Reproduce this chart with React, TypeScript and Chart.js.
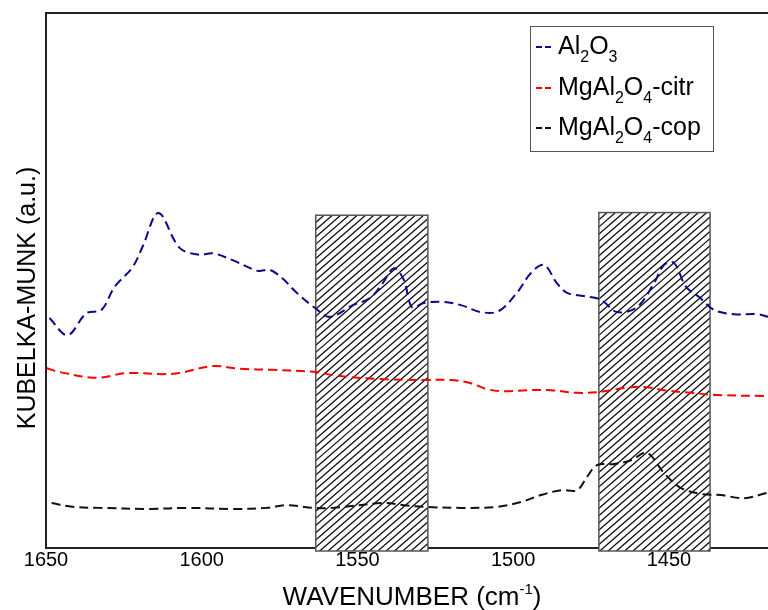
import React, { useEffect, useRef } from "react";
import { Chart, registerables } from "chart.js";

Chart.register(...registerables);

const FONT = "'Liberation Sans', Arial, sans-serif";

const xTicks = [1650, 1600, 1550, 1500, 1450];
const xMin = 1418.2;
const xMax = 1650;

const al2o3X = [1648.9, 1643.1, 1637.0, 1632.2, 1628.0, 1622.2, 1619.0, 1613.9, 1607.1, 1600.7, 1596.5, 1590.1, 1582.0, 1578.2, 1574.3, 1569.5, 1563.7, 1558.9, 1551.5, 1546.0, 1541.9, 1538.3, 1535.1, 1532.5, 1528.7, 1522.3, 1516.8, 1510.4, 1504.6, 1498.8, 1494.3, 1490.1, 1486.0, 1482.7, 1477.3, 1471.8, 1466.7, 1460.3, 1454.8, 1451.6, 1448.4, 1444.5, 1440.3, 1435.5, 1429.1, 1421.7, 1418.2];
const al2o3Y = [43.0, 39.8, 43.9, 44.5, 48.8, 52.5, 56.3, 62.6, 56.1, 54.8, 55.1, 53.8, 51.8, 52.0, 50.5, 47.7, 44.9, 43.2, 45.4, 46.7, 49.5, 52.3, 50.1, 45.0, 45.8, 46.0, 45.4, 44.1, 44.3, 47.7, 51.4, 52.9, 49.5, 47.7, 47.1, 46.4, 44.1, 45.0, 49.5, 52.9, 53.3, 48.8, 46.9, 44.5, 43.7, 43.7, 43.2];

const citrX = [1649.8, 1645.7, 1633.8, 1624.1, 1612.6, 1607.1, 1596.5, 1587.8, 1577.2, 1563.1, 1557.9, 1543.8, 1528.7, 1520.0, 1513.6, 1508.5, 1503.0, 1495.6, 1487.9, 1479.5, 1471.8, 1464.4, 1458.0, 1451.6, 1442.9, 1434.5, 1418.5];
const citrY = [33.6, 32.9, 31.8, 32.7, 32.5, 32.7, 34.0, 33.5, 33.3, 32.9, 32.3, 31.6, 31.4, 31.4, 30.8, 29.7, 29.3, 29.5, 29.5, 29.0, 29.2, 29.9, 30.1, 29.5, 29.0, 28.6, 28.4];

const copX = [1648.2, 1641.5, 1632.8, 1616.7, 1604.9, 1590.1, 1579.1, 1572.7, 1564.4, 1557.9, 1541.9, 1535.1, 1528.7, 1516.8, 1505.2, 1497.5, 1491.1, 1484.7, 1479.5, 1476.3, 1473.1, 1467.6, 1462.2, 1457.0, 1451.6, 1446.1, 1439.7, 1433.3, 1425.9, 1418.5];
const copY = [8.4, 7.7, 7.5, 7.3, 7.5, 7.3, 7.5, 8.0, 7.5, 7.5, 8.4, 8.0, 7.7, 7.5, 7.7, 8.6, 9.9, 10.8, 10.8, 13.3, 15.5, 15.7, 16.4, 17.8, 14.0, 11.2, 10.1, 9.9, 9.3, 10.3];

const bandStart = [1563.4, 1472.5];
const bandEnd = [1527.4, 1436.8];
const bandTop = [62.2, 62.7];

const seriesLabels = ["Al_2O_3", "MgAl_2O_4-citr", "MgAl_2O_4-cop"];
const seriesColors = ["#0a0a8a", "#ff0000", "#111111"];

const yTitle = "KUBELKA-MUNK (a.u.)";
const xTitleMain = "WAVENUMBER (cm";
const xTitleSup = "-1";
const xTitleEnd = ")";

function toPts(xs: number[], ys: number[]) {
  return xs.map((x, i) => ({ x, y: ys[i] }));
}

// draw text with "_n" subscripts
function drawSubText(ctx: CanvasRenderingContext2D, text: string, x: number, y: number, size: number) {
  let cx = x;
  let i = 0;
  while (i < text.length) {
    if (text[i] === "_" && i + 1 < text.length) {
      ctx.font = `${Math.round(size * 0.64)}px ${FONT}`;
      ctx.fillText(text[i + 1], cx, y + size * 0.33);
      cx += ctx.measureText(text[i + 1]).width;
      i += 2;
    } else {
      let j = i;
      while (j < text.length && text[j] !== "_") j++;
      const part = text.slice(i, j);
      ctx.font = `${size}px ${FONT}`;
      ctx.fillText(part, cx, y);
      cx += ctx.measureText(part).width;
      i = j;
    }
  }
}

const decorPlugin = {
  id: "decor",
  beforeDraw(chart: any) {
    const ctx = chart.ctx;
    ctx.save();
    ctx.fillStyle = "#ffffff";
    ctx.fillRect(0, 0, chart.width, chart.height);
    ctx.restore();
  },
  beforeDatasetsDraw(chart: any) {
    const ctx: CanvasRenderingContext2D = chart.ctx;
    const xs = chart.scales.x;
    const ys = chart.scales.y;
    const bottom = chart.chartArea.bottom + 3;
    ctx.save();
    for (let b = 0; b < bandStart.length; b++) {
      const x0 = xs.getPixelForValue(bandStart[b]);
      const x1 = xs.getPixelForValue(bandEnd[b]);
      const top = ys.getPixelForValue(bandTop[b]);
      const w = x1 - x0;
      const h = bottom - top;
      const run = h * 1.15;
      ctx.save();
      ctx.fillStyle = "#ffffff";
      ctx.fillRect(x0, top, w, h);
      ctx.beginPath();
      ctx.rect(x0, top, w, h);
      ctx.clip();
      ctx.strokeStyle = "#111111";
      ctx.lineWidth = 1.3;
      ctx.beginPath();
      for (let t = -run; t < w + run; t += 8.3) {
        ctx.moveTo(x0 + t, bottom);
        ctx.lineTo(x0 + t + run, top);
      }
      ctx.stroke();
      ctx.restore();
      ctx.strokeStyle = "#555555";
      ctx.lineWidth = 1.5;
      ctx.strokeRect(x0, top, w, h);
    }
    ctx.restore();
  },
  afterDraw(chart: any) {
    const ctx: CanvasRenderingContext2D = chart.ctx;
    const area = chart.chartArea;
    ctx.save();
    // top frame line
    ctx.strokeStyle = "#222222";
    ctx.lineWidth = 2;
    ctx.beginPath();
    ctx.moveTo(area.left - 1, area.top);
    ctx.lineTo(chart.width, area.top);
    ctx.stroke();

    // legend
    const lx = 530, ly = 26, lw = 183, lh = 125;
    ctx.fillStyle = "#ffffff";
    ctx.fillRect(lx, ly, lw, lh);
    ctx.strokeStyle = "#555555";
    ctx.lineWidth = 1;
    ctx.strokeRect(lx + 0.5, ly + 0.5, lw, lh);
    const baselines = [54, 95, 135];
    chart.data.datasets.forEach((ds: any, i: number) => {
      ctx.save();
      ctx.strokeStyle = ds.borderColor;
      ctx.lineWidth = 2.2;
      ctx.setLineDash([6, 3]);
      ctx.beginPath();
      ctx.moveTo(536, baselines[i] - 7);
      ctx.lineTo(552, baselines[i] - 7);
      ctx.stroke();
      ctx.restore();
      ctx.fillStyle = "#000000";
      ctx.textBaseline = "alphabetic";
      ctx.textAlign = "left";
      drawSubText(ctx, ds.label, 558, baselines[i], 25);
    });

    // x title with superscript
    ctx.fillStyle = "#000000";
    ctx.textBaseline = "alphabetic";
    ctx.textAlign = "left";
    ctx.font = `26px ${FONT}`;
    const w1 = ctx.measureText(xTitleMain).width;
    const w3 = ctx.measureText(xTitleEnd).width;
    ctx.font = `15px ${FONT}`;
    const w2 = ctx.measureText(xTitleSup).width;
    const total = w1 + w2 + w3;
    let sx = 412 - total / 2;
    const base = 605;
    ctx.font = `26px ${FONT}`;
    ctx.fillText(xTitleMain, sx, base);
    sx += w1;
    ctx.font = `15px ${FONT}`;
    ctx.fillText(xTitleSup, sx, base - 11);
    sx += w2;
    ctx.font = `26px ${FONT}`;
    ctx.fillText(xTitleEnd, sx, base);

    // y title
    ctx.translate(35, 298);
    ctx.rotate(-Math.PI / 2);
    ctx.textAlign = "center";
    ctx.font = `25px ${FONT}`;
    ctx.fillText(yTitle, 0, 0);
    ctx.restore();
  },
};

export default function App() {
  const ref = useRef<HTMLCanvasElement | null>(null);
  useEffect(() => {
    document.body.style.margin = "0";
    if (!ref.current) return;
    const mk = (i: number, xs: number[], ys: number[]) => ({
      label: seriesLabels[i],
      data: toPts(xs, ys),
      borderColor: seriesColors[i],
      backgroundColor: seriesColors[i],
      borderWidth: 2,
      borderDash: [9, 5],
      pointRadius: 0,
      tension: 0.35,
      fill: false,
    });
    const chart = new Chart(ref.current, {
      type: "line",
      data: {
        datasets: [mk(0, al2o3X, al2o3Y), mk(1, citrX, citrY), mk(2, copX, copY)],
      },
      options: {
        animation: false,
        responsive: false,
        maintainAspectRatio: false,
        layout: { padding: { top: 13, right: 0, left: 0, bottom: 0 } },
        plugins: { legend: { display: false }, tooltip: { enabled: false }, title: { display: false } },
        scales: {
          x: {
            type: "linear",
            reverse: true,
            min: xMin,
            max: xMax,
            grid: { display: false, drawTicks: false },
            border: { display: true, color: "#222222", width: 2 },
            ticks: {
              color: "#000000",
              font: { family: FONT, size: 20 },
              padding: 0,
              maxRotation: 0,
              autoSkip: false,
              callback: (v: any) => String(v),
            },
            afterBuildTicks: (s: any) => {
              s.ticks = xTicks.map((v) => ({ value: v }));
            },
            afterFit: (s: any) => {
              s.height = 62;
            },
          },
          y: {
            type: "linear",
            min: 0,
            max: 100,
            grid: { display: false, drawTicks: false },
            border: { display: true, color: "#222222", width: 2 },
            ticks: { display: false },
            afterFit: (s: any) => {
              s.width = 46;
            },
          },
        },
      },
      plugins: [decorPlugin],
    });
    return () => chart.destroy();
  }, []);
  return (
    <div style={{ position: "absolute", left: 0, top: 0, width: 768, height: 610 }}>
      <canvas ref={ref} width={768} height={610} style={{ display: "block" }} />
    </div>
  );
}
